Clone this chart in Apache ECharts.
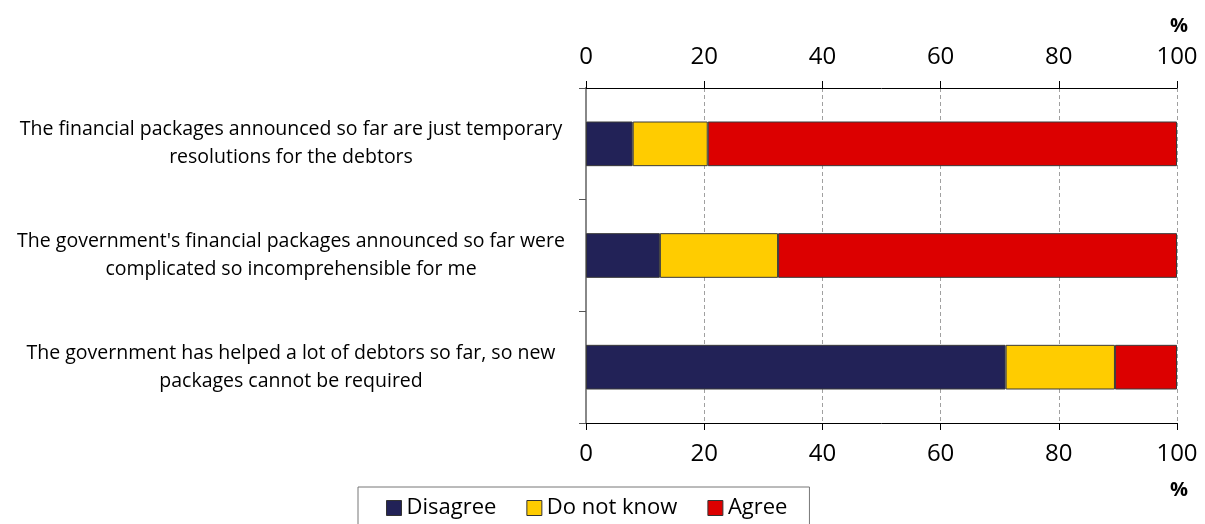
<!DOCTYPE html>
<html>
<head>
<meta charset="utf-8">
<script src="https://cdn.jsdelivr.net/npm/echarts@6/dist/echarts.min.js"></script>
<style>html,body{margin:0;padding:0;background:#fff}#c{width:1205px;height:524px}</style>
</head>
<body>
<div id="c"></div>
<script>
const categories = [
  "The financial packages announced so far are just temporary\nresolutions for the debtors",
  "The government's financial packages announced so far were\ncomplicated so incomprehensible for me",
  "The government has helped a lot of debtors so far, so new\npackages cannot be required"
];
const disagree = [7.9, 12.5, 71.0];
const doNotKnow = [12.7, 20.0, 18.5];
const agree = [79.4, 67.5, 10.5];
const tickValues = [0, 20, 40, 60, 80, 100];

const FONT = "Open Sans";
const chart = echarts.init(document.getElementById('c'), null, {renderer: 'canvas'});

const barStyle = (color) => ({color: color, borderColor: '#3a3a3a', borderWidth: 1});

const valueAxis = (pos, showGrid) => ({
  type: 'value', position: pos, min: 0, max: 100, interval: 20,
  axisLine: {show: true, lineStyle: {color: '#000', width: 1}},
  axisTick: {show: true, length: 7, lineStyle: {color: '#000'}},
  axisLabel: {color: '#000', fontFamily: FONT, fontSize: 24, margin: 19,
    formatter: v => tickValues.includes(v) ? String(v) : ''},
  splitLine: {show: showGrid, lineStyle: {color: '#a0a0a0', type: [4, 3], width: 1}}
});

chart.setOption({
  animation: false,
  textStyle: {fontFamily: FONT},
  grid: {left: 586, right: 28, top: 88, bottom: 101, containLabel: false},
  xAxis: [valueAxis('top', true), valueAxis('bottom', false)],
  yAxis: [{
    type: 'category', data: categories, inverse: true,
    axisLine: {show: true, lineStyle: {color: '#888', width: 2}},
    axisTick: {show: true, length: 7, lineStyle: {color: '#555'}},
    axisLabel: {color: '#000', fontFamily: FONT, fontSize: 19.5, lineHeight: 28,
      align: 'center', margin: 295, padding: [6, 0, 0, 0]}
  }, {
    type: 'category', data: categories, inverse: true, position: 'right',
    axisLine: {show: true, lineStyle: {color: '#888', width: 2}},
    axisTick: {show: false}, axisLabel: {show: false}
  }],
  legend: {
    left: 358, top: 487,
    data: ['Disagree', 'Do not know', 'Agree'],
    itemWidth: 15, itemHeight: 15, itemGap: 30,
    icon: 'rect',
    borderColor: '#777', borderWidth: 1,
    padding: [10, 22, 14, 28],
    textStyle: {fontFamily: FONT, fontSize: 22, color: '#000'},
    itemStyle: {borderColor: '#333', borderWidth: 1}
  },
  graphic: [
    {type: 'text', right: 17, top: 16, style: {text: '%', font: 'bold 20px "Open Sans"', fill: '#000'}},
    {type: 'text', right: 17, top: 480, style: {text: '%', font: 'bold 20px "Open Sans"', fill: '#000'}}
  ],
  series: [
    {name: 'Disagree', type: 'bar', stack: 's', data: disagree, barWidth: '40%', itemStyle: barStyle('#222257')},
    {name: 'Do not know', type: 'bar', stack: 's', data: doNotKnow, barWidth: '40%', itemStyle: barStyle('#FFCC00')},
    {name: 'Agree', type: 'bar', stack: 's', data: agree, barWidth: '40%', itemStyle: barStyle('#DC0000')}
  ]
});
</script>
</body>
</html>
